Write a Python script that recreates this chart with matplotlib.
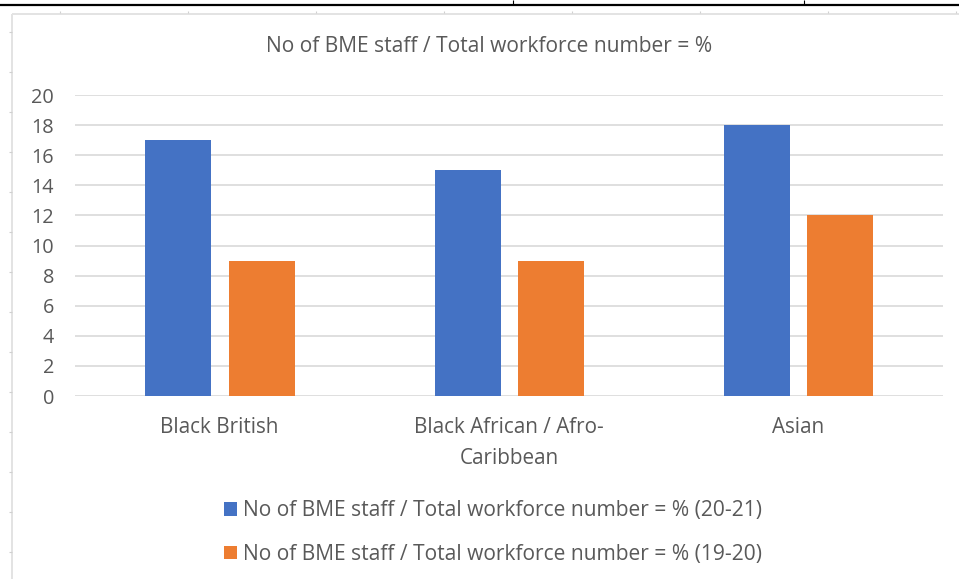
import matplotlib
matplotlib.use("Agg")
import matplotlib.pyplot as plt
from matplotlib.lines import Line2D
import numpy as np

# Chart data
categories = ["Black British", "Black African / Afro-\nCaribbean", "Asian"]
series_labels = [
    "No of BME staff / Total workforce number = % (20-21)",
    "No of BME staff / Total workforce number = % (19-20)",
]
values_2021 = [17, 15, 18]
values_1920 = [9, 9, 12]
y_ticks = [0, 2, 4, 6, 8, 10, 12, 14, 16, 18, 20]
title = "No of BME staff / Total workforce number = %"

BLUE = "#4472C4"
ORANGE = "#ED7D31"
TEXT = "#595959"
GRID = "#D9D9D9"

plt.rcParams["font.family"] = ["Open Sans", "DejaVu Sans"]

W, H = 959, 579
fig = plt.figure(figsize=(W / 100, H / 100), dpi=100)
fig.patch.set_facecolor("white")


def fx(px):
    return px / W


def fy(py):
    return 1 - py / H


# plot area
ax = fig.add_axes([fx(75), fy(396), fx(943) - fx(75), fy(95) - fy(396)])
x = np.arange(len(categories))
bw = 0.228
ax.bar(x - 0.143, values_2021, width=bw, color=BLUE, label=series_labels[0], zorder=3)
ax.bar(x + 0.145, values_1920, width=bw, color=ORANGE, label=series_labels[1], zorder=3)

ax.set_xlim(-0.5, len(categories) - 0.5)
ax.set_ylim(0, 20)
ax.set_yticks(y_ticks)
ax.set_xticks(x)
ax.set_xticklabels(categories, linespacing=1.62)
ax.tick_params(axis="y", length=0, pad=15, labelsize=14.3, labelcolor=TEXT)
ax.tick_params(axis="x", length=0, pad=15, labelsize=14.9, labelcolor=TEXT)
for lbl in ax.get_xticklabels():
    lbl.set_multialignment("center")
ax.grid(axis="y", color=GRID, linewidth=1.2, zorder=0)
for s in ax.spines.values():
    s.set_visible(False)

# title
fig.text(fx(489.5), fy(47), title, ha="center", va="center", fontsize=15.1, color=TEXT)

# legend
fig.legend(
    loc="upper left",
    bbox_to_anchor=(fx(216), fy(492)),
    frameon=False,
    fontsize=15.1,
    labelcolor=TEXT,
    handlelength=0.6,
    handleheight=0.6,
    handletextpad=0.28,
    labelspacing=1.08,
    borderaxespad=0,
)

# surrounding chart frame and sheet borders
def line(x0, y0, x1, y1, color, lw):
    fig.add_artist(Line2D([fx(x0), fx(x1)], [fy(y0), fy(y1)], color=color,
                          linewidth=lw, transform=fig.transFigure, solid_capstyle="butt"))

line(0, 5, W, 5, "black", 1.6)
line(513, 0, 513, 5, "black", 0.8)
line(804, 0, 804, 5, "black", 0.8)
line(12, 13.5, W, 13.5, "#E3E3E3", 1.4)
line(12, 13.5, 12, H, "#E3E3E3", 1.4)
for tx in range(60, W, 128):
    line(tx, 10.5, tx, 13, "#D0D0D0", 0.8)
for ty in range(32, H, 40):
    line(9, ty, 11.5, ty, "#D0D0D0", 0.8)

fig.savefig("out.png", dpi=100, facecolor="white")
